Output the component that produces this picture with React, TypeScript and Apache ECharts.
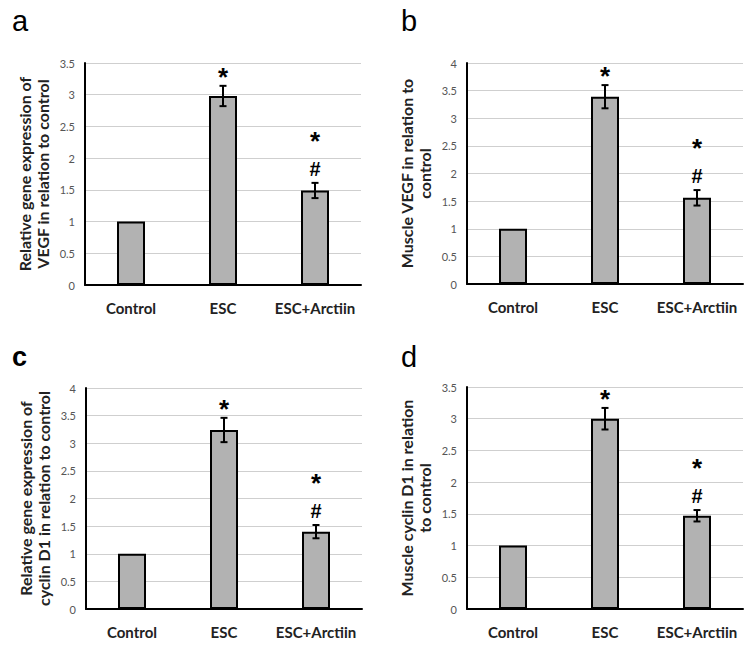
import React, { useEffect, useRef } from "react";
import * as echarts from "echarts";

const categories = ["Control", "ESC", "ESC+Arctiin"];

const vegfGene = [1, 2.98, 1.49];
const vegfGeneErr = [0, 0.16, 0.12];
const vegfMuscle = [1, 3.39, 1.56];
const vegfMuscleErr = [0, 0.21, 0.14];
const cyclinGene = [1, 3.24, 1.4];
const cyclinGeneErr = [0, 0.22, 0.12];
const cyclinMuscle = [1, 3.0, 1.47];
const cyclinMuscleErr = [0, 0.17, 0.09];

const starMarks = [false, true, true];
const hashMarks = [false, false, true];

const panelLetters = ["a", "b", "c", "d"];
const yTitles = [
  "Relative gene expression of\nVEGF in relation to control",
  "Muscle VEGF in relation to\ncontrol",
  "Relative gene expression of\ncyclin D1 in relation to control",
  "Muscle cyclin D1 in relation\nto control",
];
const yMax = [3.5, 4, 4, 3.5];

const FONT = "Lato, 'Liberation Sans', sans-serif";
const MARK_FONT = "'Liberation Sans', Arial, sans-serif";

export default function App() {
  const ref = useRef<HTMLDivElement>(null);
  useEffect(() => {
    if (!ref.current) return;
    const chart = echarts.init(ref.current, null, { renderer: "svg" });
    const values = [vegfGene, vegfMuscle, cyclinGene, cyclinMuscle];
    const errors = [vegfGeneErr, vegfMuscleErr, cyclinGeneErr, cyclinMuscleErr];
    const grids = [
      { left: 85, top: 63, width: 276, height: 222 },
      { left: 467, top: 63, width: 276, height: 221 },
      { left: 86, top: 388, width: 276, height: 221 },
      { left: 467, top: 387, width: 276, height: 222 },
    ];
    const letterPos = [
      { x: 12, y: 21, bold: false, size: 29 },
      { x: 401, y: 21, bold: false, size: 29 },
      { x: 12, y: 357, bold: true, size: 27 },
      { x: 401, y: 357, bold: false, size: 29 },
    ];

    const xAxis: any[] = [];
    const yAxis: any[] = [];
    const series: any[] = [];
    values.forEach((vals, i) => {
      xAxis.push({
        type: "category",
        gridIndex: i,
        data: categories,
        axisLine: { show: true, lineStyle: { color: "#000", width: 2 } },
        axisTick: { show: false },
        axisLabel: {
          interval: 0,
          color: "#222",
          fontFamily: FONT,
          fontWeight: "bold",
          fontSize: 15,
          margin: 15,
        },
      });
      yAxis.push({
        type: "value",
        gridIndex: i,
        min: 0,
        max: yMax[i],
        interval: 0.5,
        name: yTitles[i],
        nameLocation: "middle",
        nameRotate: 90,
        nameGap: 34,
        nameTextStyle: {
          fontFamily: FONT,
          fontWeight: "bold",
          fontSize: 16,
          color: "#222",
          lineHeight: 18,
        },
        axisLine: { show: true, lineStyle: { color: "#000", width: 2 } },
        axisTick: { show: false },
        axisLabel: { color: "#555", fontFamily: FONT, fontSize: 11, margin: 10 },
        splitLine: { show: true, lineStyle: { color: "#cfcfcf", width: 1 } },
      });
      series.push({
        type: "bar",
        xAxisIndex: i,
        yAxisIndex: i,
        data: vals,
        barWidth: 28,
        itemStyle: { color: "#b2b2b2", borderColor: "#000", borderWidth: 2 },
        z: 2,
      });
      const err = errors[i];
      series.push({
        type: "custom",
        xAxisIndex: i,
        yAxisIndex: i,
        z: 3,
        data: vals.map((v, j) => [j, v, err[j]]),
        renderItem: (params: any, api: any) => {
          const x = api.value(0);
          const v = api.value(1);
          const e = api.value(2);
          if (!e) return null;
          const top = api.coord([x, v + e]);
          const bot = api.coord([x, v - e]);
          const cw = 3.5;
          const st = { stroke: "#000", lineWidth: 2 };
          return {
            type: "group",
            children: [
              { type: "line", shape: { x1: top[0], y1: top[1], x2: bot[0], y2: bot[1] }, style: st },
              { type: "line", shape: { x1: top[0] - cw, y1: top[1], x2: top[0] + cw, y2: top[1] }, style: st },
              { type: "line", shape: { x1: bot[0] - cw, y1: bot[1], x2: bot[0] + cw, y2: bot[1] }, style: st },
            ],
          };
        },
      });
      series.push({
        type: "custom",
        xAxisIndex: i,
        yAxisIndex: i,
        z: 4,
        data: vals.map((v, j) => [j, v + err[j], starMarks[j] ? 1 : 0, hashMarks[j] ? 1 : 0]),
        renderItem: (params: any, api: any) => {
          const x = api.value(0);
          const t = api.value(1);
          const star = api.value(2);
          const hash = api.value(3);
          const p = api.coord([x, t]);
          const children: any[] = [];
          if (hash) {
            children.push({
              type: "text",
              style: {
                text: "#",
                x: p[0],
                y: p[1] - 14,
                align: "center",
                verticalAlign: "middle",
                font: `bold 20px ${MARK_FONT}`,
                fill: "#000",
              },
            });
          }
          if (star) {
            children.push({
              type: "text",
              style: {
                text: "*",
                x: p[0],
                y: hash ? p[1] - 42 : p[1] - 9,
                align: "center",
                verticalAlign: "middle",
                font: `bold 26px ${MARK_FONT}`,
                fill: "#000",
              },
            });
          }
          if (!children.length) return null;
          return { type: "group", children };
        },
      });
    });

    chart.setOption({
      animation: false,
      backgroundColor: "#fff",
      grid: grids,
      xAxis,
      yAxis,
      series,
      graphic: panelLetters.map((l, i) => ({
        type: "text",
        x: letterPos[i].x,
        y: letterPos[i].y,
        style: {
          text: l,
          font: `${letterPos[i].bold ? "bold " : ""}${letterPos[i].size}px 'Liberation Sans', sans-serif`,
          fill: "#000",
          verticalAlign: "middle",
        },
      })),
    });
    return () => chart.dispose();
  }, []);
  return (
    <div
      ref={ref}
      style={{ position: "fixed", left: 0, top: 0, width: 750, height: 655, background: "#fff" }}
    />
  );
}
